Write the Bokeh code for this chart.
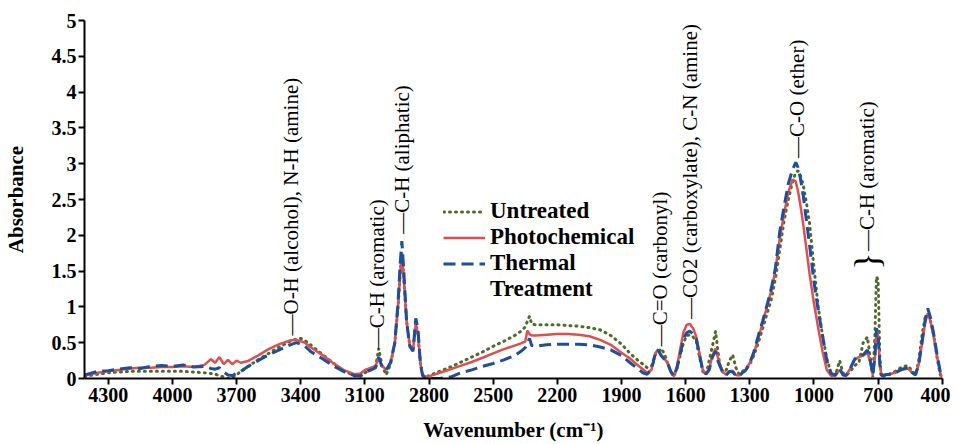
import math
from bokeh.plotting import figure
from bokeh.models import (Range1d, FixedTicker, CustomJSTickFormatter, Legend,
                          LegendItem, Label)
from bokeh.embed import file_html
from bokeh.resources import INLINE

# ---------------- data ----------------
wavenumber = [4410, 4350, 4300, 4250, 4200, 4150, 4100, 4050, 4000, 3950, 3900, 3850, 3820, 3800,
              3780, 3760, 3740, 3720, 3700, 3680, 3650, 3600, 3550, 3500, 3450, 3420, 3400, 3380,
              3350, 3300, 3250, 3200, 3150, 3120, 3100, 3070, 3050, 3035, 3020, 3000, 2980, 2960,
              2945, 2935, 2927, 2918, 2905, 2890, 2875, 2862, 2852, 2840, 2830, 2815, 2800, 2750,
              2700, 2650, 2600, 2550, 2500, 2450, 2400, 2370, 2350, 2340, 2330, 2320, 2300, 2250,
              2200, 2150, 2100, 2050, 2000, 1950, 1900, 1860, 1830, 1800, 1780, 1760, 1740, 1730,
              1715, 1700, 1685, 1670, 1655, 1640, 1625, 1610, 1595, 1580, 1565, 1550, 1535, 1520,
              1505, 1490, 1475, 1460, 1450, 1440, 1425, 1410, 1395, 1380, 1365, 1350, 1335, 1320,
              1300, 1280, 1260, 1240, 1220, 1200, 1180, 1160, 1140, 1120, 1100, 1085, 1075, 1065,
              1050, 1035, 1020, 1000, 980, 960, 940, 920, 900, 880, 865, 850, 830, 810, 790, 770,
              750, 735, 725, 715, 708, 700, 692, 685, 670, 650, 620, 590, 560, 540, 525, 510, 495,
              480, 468, 455, 440, 425, 410, 400]

untreated = [0.03, 0.06, 0.08, 0.09, 0.10, 0.10, 0.10, 0.10, 0.10, 0.10, 0.09, 0.08, 0.07, 0.06,
             0.04, 0.02, 0.00, 0.01, 0.05, 0.10, 0.16, 0.26, 0.35, 0.44, 0.52, 0.55, 0.56, 0.53,
             0.46, 0.34, 0.22, 0.11, 0.04, 0.03, 0.08, 0.13, 0.16, 0.42, 0.18, 0.05, 0.20, 0.50,
             1.00, 1.45, 1.75, 1.40, 0.80, 0.45, 0.40, 0.78, 0.62, 0.20, 0.05, 0.02, 0.04, 0.10,
             0.16, 0.23, 0.30, 0.37, 0.45, 0.52, 0.60, 0.66, 0.72, 0.80, 0.87, 0.76, 0.75, 0.75,
             0.75, 0.74, 0.73, 0.71, 0.68, 0.60, 0.48, 0.35, 0.27, 0.20, 0.15, 0.17, 0.35, 0.36,
             0.42, 0.35, 0.22, 0.10, 0.03, 0.15, 0.33, 0.50, 0.60, 0.61, 0.58, 0.52, 0.30, 0.10,
             0.05, 0.25, 0.45, 0.66, 0.40, 0.18, 0.08, 0.12, 0.25, 0.33, 0.15, 0.06, 0.10, 0.12,
             0.20, 0.33, 0.50, 0.70, 0.90, 1.10, 1.40, 1.80, 2.20, 2.50, 2.75, 2.88, 2.90, 2.85,
             2.70, 2.45, 2.15, 1.55, 1.00, 0.60, 0.28, 0.07, 0.04, 0.25, 0.08, 0.04, 0.10, 0.18,
             0.22, 0.50, 0.58, 0.25, 0.02, 0.60, 1.42, 1.38, 0.30, 0.02, 0.04, 0.05, 0.10, 0.16,
             0.18, 0.10, 0.05, 0.25, 0.60, 0.85, 0.89, 0.80, 0.60, 0.30, 0.06, 0.00]

photochemical = [0.04, 0.08, 0.10, 0.12, 0.14, 0.15, 0.15, 0.16, 0.16, 0.17, 0.16, 0.19, 0.27, 0.22,
                 0.30, 0.20, 0.26, 0.20, 0.25, 0.22, 0.24, 0.32, 0.41, 0.48, 0.53, 0.54, 0.52, 0.50,
                 0.43, 0.33, 0.22, 0.12, 0.06, 0.07, 0.12, 0.15, 0.18, 0.28, 0.18, 0.12, 0.22, 0.50,
                 1.00, 1.45, 1.76, 1.40, 0.80, 0.47, 0.40, 0.76, 0.62, 0.20, 0.05, 0.02, 0.03, 0.08,
                 0.13, 0.18, 0.23, 0.29, 0.35, 0.41, 0.46, 0.49, 0.52, 0.67, 0.62, 0.60, 0.60, 0.61,
                 0.62, 0.62, 0.61, 0.59, 0.54, 0.47, 0.36, 0.28, 0.20, 0.13, 0.08, 0.12, 0.36, 0.40,
                 0.33, 0.28, 0.22, 0.10, 0.03, 0.18, 0.42, 0.65, 0.75, 0.76, 0.70, 0.58, 0.35, 0.12,
                 0.07, 0.13, 0.32, 0.42, 0.30, 0.20, 0.09, 0.05, 0.10, 0.11, 0.05, 0.04, 0.08, 0.12,
                 0.22, 0.36, 0.56, 0.78, 1.00, 1.22, 1.52, 1.95, 2.30, 2.60, 2.78, 2.75, 2.62, 2.45,
                 2.15, 1.80, 1.45, 1.05, 0.70, 0.38, 0.12, 0.04, 0.04, 0.12, 0.06, 0.05, 0.14, 0.26,
                 0.30, 0.32, 0.36, 0.22, 0.05, 0.28, 0.66, 0.60, 0.20, 0.04, 0.05, 0.06, 0.08, 0.12,
                 0.14, 0.08, 0.05, 0.20, 0.48, 0.78, 0.91, 0.80, 0.58, 0.32, 0.08, 0.02]

thermal = [0.05, 0.10, 0.11, 0.13, 0.15, 0.14, 0.17, 0.18, 0.17, 0.19, 0.16, 0.17, 0.14, 0.13,
           0.15, 0.09, 0.05, 0.04, 0.07, 0.10, 0.16, 0.25, 0.33, 0.40, 0.47, 0.50, 0.48, 0.45,
           0.37, 0.28, 0.18, 0.10, 0.04, 0.04, 0.09, 0.12, 0.15, 0.30, 0.16, 0.12, 0.22, 0.50,
           1.05, 1.60, 1.92, 1.50, 0.80, 0.45, 0.38, 0.84, 0.70, 0.20, 0.04, 0.01, 0.00, 0.00,
           0.02, 0.08, 0.12, 0.17, 0.21, 0.26, 0.32, 0.38, 0.43, 0.50, 0.56, 0.46, 0.45, 0.47,
           0.48, 0.48, 0.48, 0.47, 0.44, 0.40, 0.32, 0.22, 0.15, 0.08, 0.06, 0.12, 0.38, 0.40,
           0.32, 0.27, 0.22, 0.10, 0.03, 0.15, 0.35, 0.55, 0.64, 0.66, 0.62, 0.55, 0.32, 0.12,
           0.06, 0.12, 0.30, 0.38, 0.25, 0.18, 0.07, 0.05, 0.10, 0.09, 0.04, 0.03, 0.08, 0.11,
           0.22, 0.38, 0.60, 0.80, 1.02, 1.25, 1.55, 2.05, 2.40, 2.72, 2.92, 3.02, 2.95, 2.82,
           2.55, 2.20, 1.85, 1.35, 0.95, 0.60, 0.25, 0.07, 0.05, 0.14, 0.05, 0.04, 0.14, 0.27,
           0.32, 0.33, 0.40, 0.22, 0.05, 0.30, 0.70, 0.62, 0.20, 0.04, 0.05, 0.06, 0.08, 0.13,
           0.15, 0.08, 0.05, 0.20, 0.50, 0.82, 0.98, 0.85, 0.62, 0.35, 0.10, 0.02]

legend_labels = ["Untreated", "Photochemical", "Thermal", "Treatment"]

x_ticks = [4300, 4000, 3700, 3400, 3100, 2800, 2500, 2200, 1900, 1600, 1300, 1000, 700, 400]
y_ticks = [0, 0.5, 1, 1.5, 2, 2.5, 3, 3.5, 4, 4.5, 5]

ann_text = ["\u2014O-H (alcohol), N-H (amine)", "\u2014C-H (aromatic)", "\u2014C-H (aliphatic)",
            "\u2014C=O (carbonyl)", "\u2014CO2 (carboxylate), C-N (amine)", "\u2014C-O (ether)",
            "\u2014C-H (aromatic)"]
ann_x = [3445, 3044, 2927, 1720, 1580, 1081, 750]
ann_y = [0.60, 0.41, 2.02, 0.45, 0.83, 3.08, 1.78]
brace_x = 750
brace_y = 1.64

# ---------------- figure ----------------
SERIF = "Liberation Serif"

p = figure(width=950, height=444, output_backend="svg", toolbar_location=None,
           x_range=Range1d(4411, 399), y_range=Range1d(0, 5),
           min_border_left=82, min_border_right=8, min_border_top=20, min_border_bottom=66)
p.outline_line_color = None
p.grid.visible = False
p.background_fill_color = "white"

r_u = p.line(wavenumber, untreated, line_color="#4f6b2a", line_width=3,
             line_dash="1 5", line_cap="round")
r_p = p.line(wavenumber, photochemical, line_color="#dc5050", line_width=2.5)
r_t = p.line(wavenumber, thermal, line_color="#1f4e9a", line_width=3, line_dash="12 6")
# invisible twin of the thermal series, only used for the second legend line
r_blank = p.line(wavenumber, thermal, line_alpha=0)

for ax in (p.xaxis[0], p.yaxis[0]):
    ax.axis_line_color = "black"
    ax.axis_line_width = 2
    ax.major_tick_line_color = "black"
    ax.major_tick_line_width = 2
    ax.major_tick_in = 0
    ax.major_tick_out = 6
    ax.minor_tick_line_color = None
    ax.major_label_text_font = SERIF
    ax.major_label_text_font_style = "bold"
    ax.major_label_text_font_size = "20px"
    ax.major_label_text_color = "black"
    ax.axis_label_text_font = SERIF
    ax.axis_label_text_font_style = "bold"
    ax.axis_label_text_font_size = "21px"
    ax.axis_label_text_color = "black"

p.xaxis.ticker = FixedTicker(ticks=x_ticks)
p.yaxis.ticker = FixedTicker(ticks=y_ticks)
p.yaxis.formatter = CustomJSTickFormatter(code="return String(tick);")
p.xaxis.formatter = CustomJSTickFormatter(code="return String(tick);")
p.xaxis.axis_label = "Wavenumber (cm\u207b\u00b9)"
p.yaxis.axis_label = "Absorbance"
p.xaxis.major_label_standoff = 3
p.yaxis.major_label_standoff = 2
p.xaxis.axis_label_standoff = 13
p.yaxis.axis_label_standoff = 21

legend = Legend(items=[LegendItem(label=legend_labels[0], renderers=[r_u]),
                       LegendItem(label=legend_labels[1], renderers=[r_p]),
                       LegendItem(label=legend_labels[2], renderers=[r_t]),
                       LegendItem(label=legend_labels[3], renderers=[r_blank])],
                location=(359, 76))
legend.label_text_font = SERIF
legend.label_text_font_style = "bold"
legend.label_text_font_size = "23px"
legend.label_text_color = "black"
legend.label_height = 25
legend.glyph_height = 25
legend.glyph_width = 42
legend.label_standoff = 5
legend.spacing = 0
legend.padding = 0
legend.margin = 0
legend.border_line_color = None
legend.background_fill_alpha = 0
p.add_layout(legend)

for t, x, y in zip(ann_text, ann_x, ann_y):
    p.add_layout(Label(x=x, y=y, text=t, angle=math.pi / 2, angle_units="rad",
                       text_align="left", text_baseline="middle", text_font=SERIF,
                       text_font_size="21px", text_color="black"))

p.add_layout(Label(x=brace_x, y=brace_y, text="}", angle=math.pi / 2, angle_units="rad",
                   text_align="center", text_baseline="middle", text_font=SERIF,
                   text_font_size="36px", text_color="black"))

open("out.html", "w").write(file_html(p, INLINE))
